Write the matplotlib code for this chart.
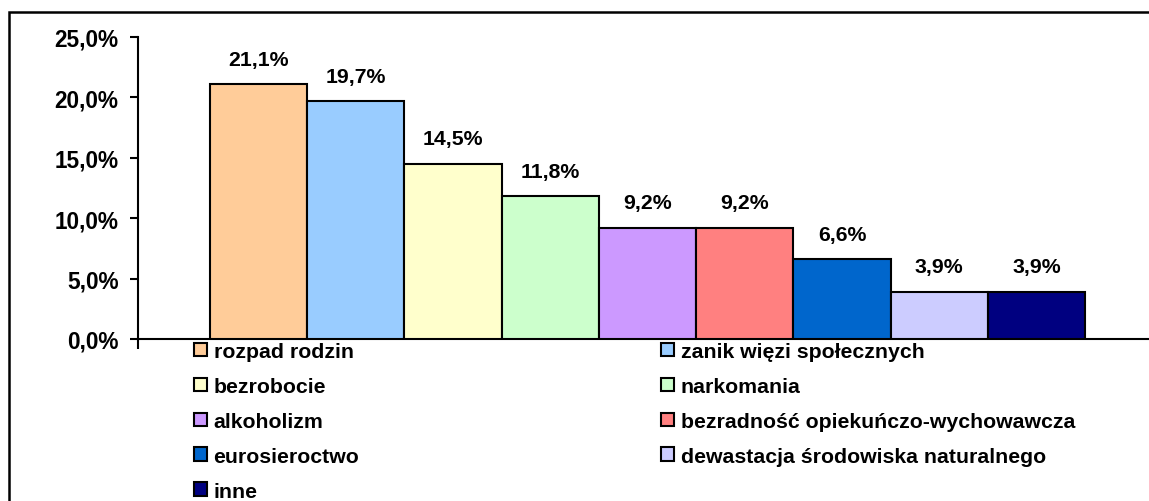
import matplotlib.pyplot as plt
from matplotlib.patches import Patch, Rectangle

plt.rcParams['font.family'] = ['Liberation Sans', 'DejaVu Sans']
plt.rcParams['font.weight'] = 'bold'

# data
categories = ['rozpad rodzin', 'zanik więzi społecznych', 'bezrobocie', 'narkomania',
              'alkoholizm', 'bezradność opiekuńczo-wychowawcza', 'eurosieroctwo',
              'dewastacja środowiska naturalnego', 'inne']
values = [21.1, 19.7, 14.5, 11.8, 9.2, 9.2, 6.6, 3.9, 3.9]
colors = ['#FFCC99', '#99CCFF', '#FFFFCC', '#CCFFCC', '#CC99FF',
          '#FF8080', '#0066CC', '#CCCCFF', '#000080']
yticks = [0, 5, 10, 15, 20, 25]

fig = plt.figure(figsize=(11.49, 5.02), dpi=100)
ax = fig.add_axes([138 / 1149, 162 / 502, 1011 / 1149, 302 / 502])

x = list(range(len(values)))
bars = ax.bar(x, values, width=1.0, color=colors, edgecolor='black', linewidth=1.5, zorder=3)

for xi, v in zip(x, values):
    ax.annotate(f'{v:.1f}%'.replace('.', ','), (xi, v), xytext=(0, 18),
                textcoords='offset points', ha='center', va='center',
                fontsize=15.3, fontweight='bold')

ax.set_ylim(0, 25)
xl = -0.5 - 72 / 97.2
ax.set_xlim(xl, 8.5 + 64 / 97.2)
ax.set_yticks(yticks)
ax.set_yticklabels([f'{t:.1f}%'.replace('.', ',') for t in yticks], fontsize=16.3, fontweight='bold')
ax.set_xticks([xl])
ax.set_xticklabels([''])
ax.tick_params(axis='y', direction='out', length=6, width=1.5, pad=8)
ax.tick_params(axis='x', direction='out', length=7, width=1.5)
for s in ['top', 'right']:
    ax.spines[s].set_visible(False)
for s in ['left', 'bottom']:
    ax.spines[s].set_linewidth(1.5)

# legend in two columns
handles = [Patch(facecolor=c, edgecolor='black', linewidth=1.5) for c in colors]
leg_kw = dict(frameon=False, handlelength=0.62, handleheight=0.62,
              handletextpad=0.3, labelspacing=0.75, borderpad=0, borderaxespad=0,
              loc='upper left', prop={'weight': 'bold', 'size': 15.3})
leg1 = fig.legend(handles[0::2], categories[0::2], bbox_to_anchor=(194 / 1149, 1 - 343 / 502), **leg_kw)
leg2 = fig.legend(handles[1::2], categories[1::2], bbox_to_anchor=(661 / 1149, 1 - 343 / 502), **leg_kw)

# outer frame
fig.patches.append(Rectangle((9 / 1149, -0.1), 1.2, 1.1 - 13 / 502, transform=fig.transFigure,
                             fill=False, edgecolor='black', linewidth=1.8))

plt.savefig('out.png', dpi=100)
